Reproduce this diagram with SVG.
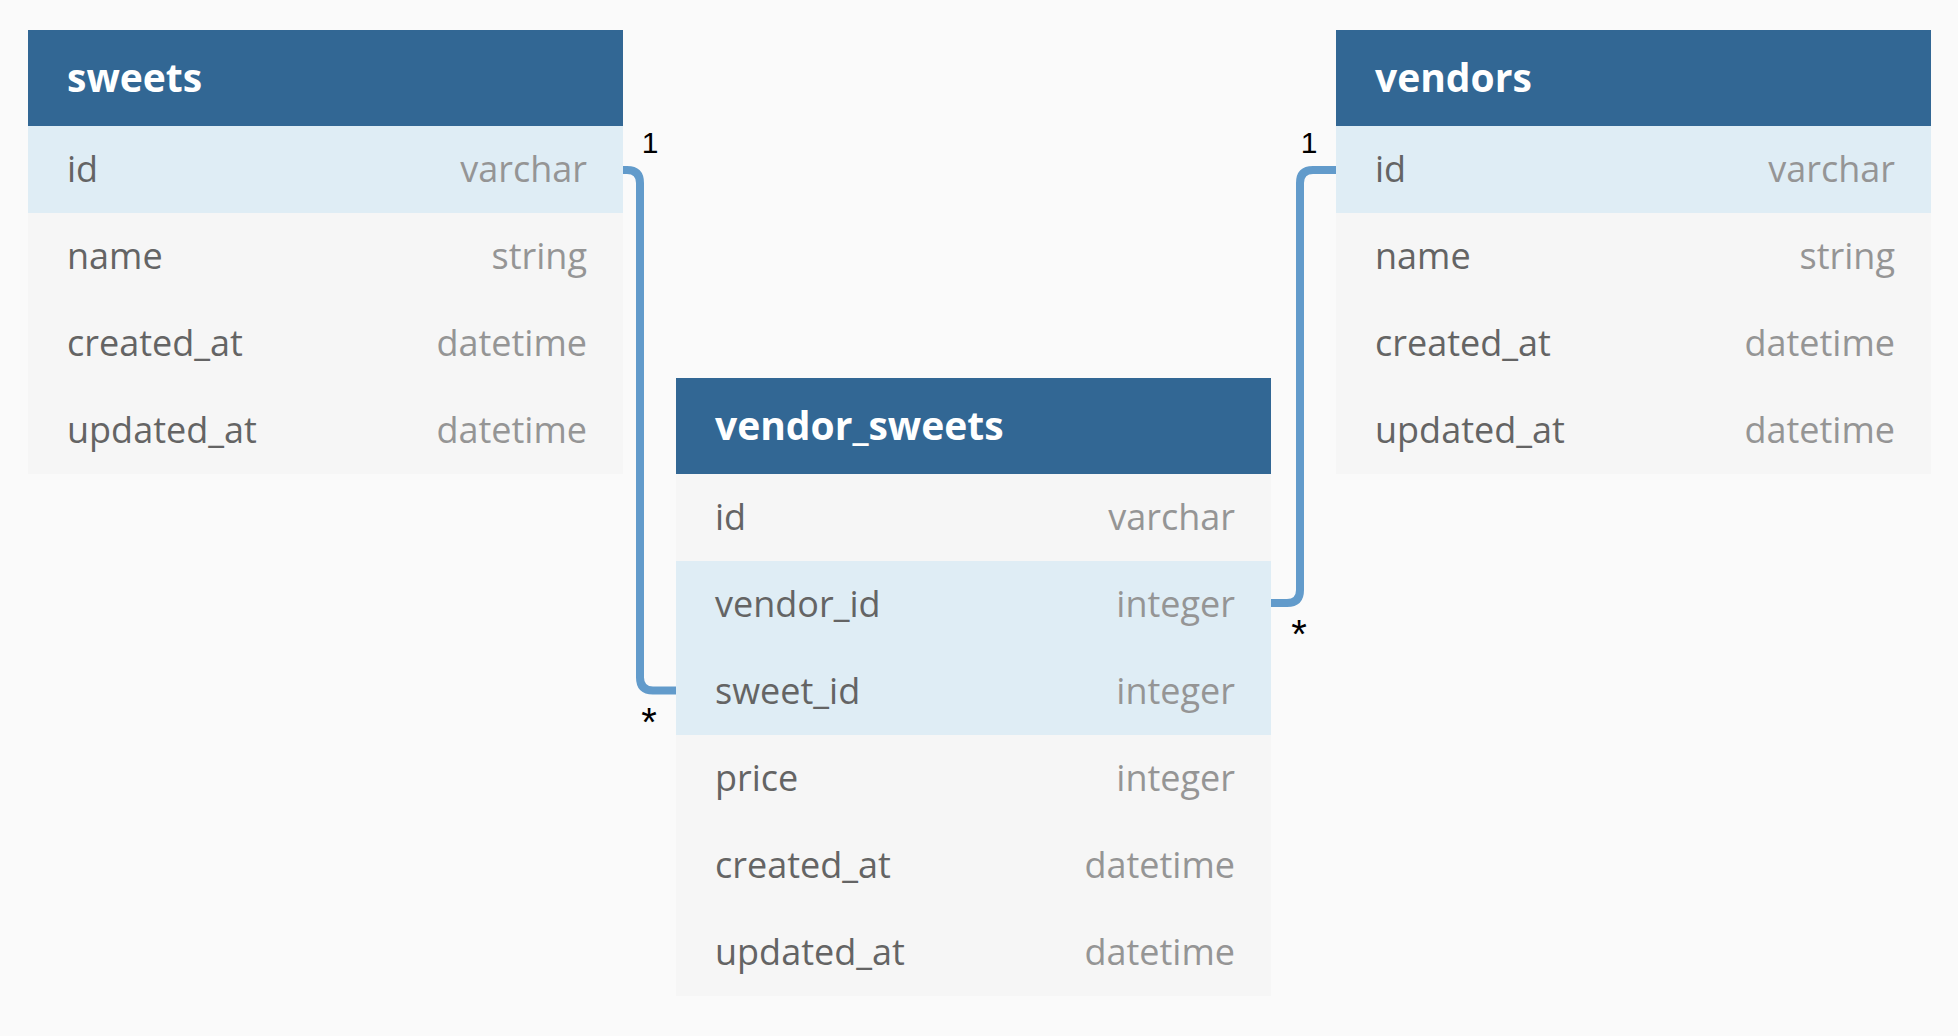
<svg xmlns="http://www.w3.org/2000/svg" width="1958" height="1036" viewBox="0 0 1958 1036">
<style>
.bg{fill:#FAFAFA}
.hdr{fill:#326794}
.row{fill:#F6F6F6}
.hl{fill:#DFEDF5}
.title{font-family:"Open Sans","Noto Sans",sans-serif;font-weight:700;font-size:39px;fill:#FFFFFF}
.fn{font-family:"Open Sans","Noto Sans",sans-serif;font-size:36px;fill:#646464}
.ft{font-family:"Open Sans","Noto Sans",sans-serif;font-size:36px;fill:#959595;text-anchor:end}
.conn{fill:none;stroke:#629BCB;stroke-width:8}
.card{font-family:"Liberation Sans",Arial,sans-serif;font-size:30px;fill:#000000;text-anchor:middle}
.star{font-family:"Liberation Sans",Arial,sans-serif;font-size:40px;fill:#000000;text-anchor:middle}
</style>
<rect class="bg" x="0" y="0" width="1958" height="1036"/>

<g id="sweets">
<rect class="hdr" x="28" y="30" width="595" height="96"/>
<rect class="hl" x="28" y="126" width="595" height="87"/>
<rect class="row" x="28" y="213" width="595" height="261"/>
<text class="title" x="67" y="92">sweets</text>
<text class="fn" x="67" y="182">id</text><text class="ft" x="587" y="182">varchar</text>
<text class="fn" x="67" y="269">name</text><text class="ft" x="587" y="269">string</text>
<text class="fn" x="67" y="356">created_at</text><text class="ft" x="587" y="356">datetime</text>
<text class="fn" x="67" y="443">updated_at</text><text class="ft" x="587" y="443">datetime</text>
</g>

<g id="vendor_sweets">
<rect class="hdr" x="676" y="378" width="595" height="96"/>
<rect class="row" x="676" y="474" width="595" height="87"/>
<rect class="hl" x="676" y="561" width="595" height="174"/>
<rect class="row" x="676" y="735" width="595" height="261"/>
<text class="title" x="715" y="440">vendor_sweets</text>
<text class="fn" x="715" y="530">id</text><text class="ft" x="1235" y="530">varchar</text>
<text class="fn" x="715" y="617">vendor_id</text><text class="ft" x="1235" y="617">integer</text>
<text class="fn" x="715" y="704">sweet_id</text><text class="ft" x="1235" y="704">integer</text>
<text class="fn" x="715" y="791">price</text><text class="ft" x="1235" y="791">integer</text>
<text class="fn" x="715" y="878">created_at</text><text class="ft" x="1235" y="878">datetime</text>
<text class="fn" x="715" y="965">updated_at</text><text class="ft" x="1235" y="965">datetime</text>
</g>

<g id="vendors">
<rect class="hdr" x="1336" y="30" width="595" height="96"/>
<rect class="hl" x="1336" y="126" width="595" height="87"/>
<rect class="row" x="1336" y="213" width="595" height="261"/>
<text class="title" x="1375" y="92">vendors</text>
<text class="fn" x="1375" y="182">id</text><text class="ft" x="1895" y="182">varchar</text>
<text class="fn" x="1375" y="269">name</text><text class="ft" x="1895" y="269">string</text>
<text class="fn" x="1375" y="356">created_at</text><text class="ft" x="1895" y="356">datetime</text>
<text class="fn" x="1375" y="443">updated_at</text><text class="ft" x="1895" y="443">datetime</text>
</g>

<g id="connectors">
<path class="conn" d="M 623 170 H 627 Q 640 170 640 183 V 677.5 Q 640 690.5 653 690.5 H 676"/>
<path class="conn" d="M 1271 603 H 1287 Q 1300 603 1300 590 V 183 Q 1300 170 1313 170 H 1336"/>
<text class="card" x="650" y="153">1</text>
<text class="star" x="649" y="736">*</text>
<text class="card" x="1309" y="153">1</text>
<text class="star" x="1299" y="648">*</text>
</g>
</svg>
